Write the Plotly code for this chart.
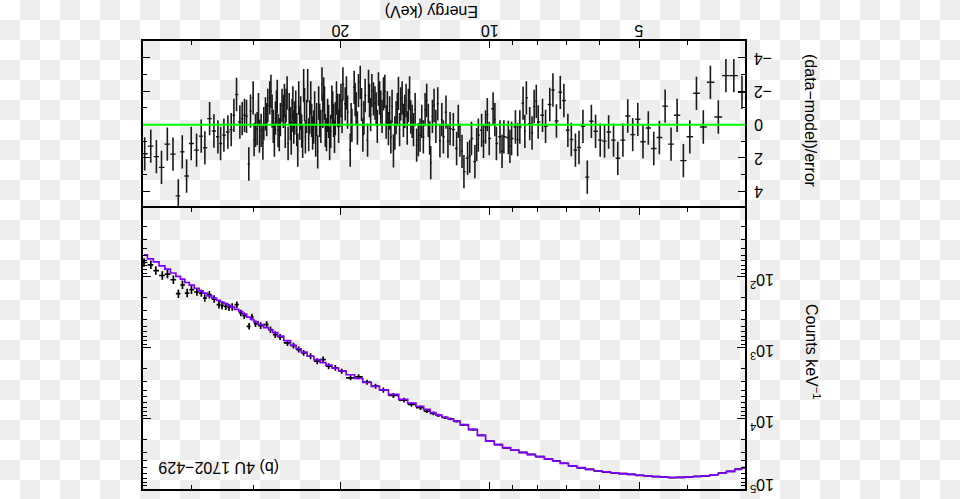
import numpy as np
import plotly.graph_objects as go

FONT = "Liberation Sans, Arial, Helvetica, sans-serif"

# ---------------- residual panel: energy (keV) and (data-model)/error ----------------
res_e_a = [49.7, 48.32, 47.07, 45.97, 44.74, 43.58, 42.52, 41.74, 40.91, 40.04]
res_v_a = [1.75, 1.29, 1.92, 2.56, 1.17, 1.77, 4.27, 1.63, 3.08, 1.13]

res_e_b = [39.06, 38.22, 37.58, 36.76, 36.03, 35.37, 34.93, 34.40, 33.77, 33.25,
           32.84, 32.44, 31.94, 31.60, 31.26, 30.97, 30.64, 30.40, 30.03]
res_v_b = [1.53, 0.69, 1.39, -0.36, 0.38, 0.73, 1.13, 0.63, 0.44, 0.30,
           -0.56, -1.81, -0.16, -0.36, -0.56, -0.50, 2.36, -0.81, -1.61]

res_e_c = [29.71, 29.48, 29.16, 28.94, 28.58, 28.36, 28.05, 27.80, 27.50, 27.21,
           26.95, 26.75, 26.46, 26.26, 25.97, 25.77, 25.53, 25.26, 25.06, 24.87,
           24.64, 24.41, 24.19, 23.97, 23.75, 23.56, 23.31, 23.09, 22.88, 22.67,
           22.46, 22.25, 22.05, 21.81, 21.64, 21.48, 21.25, 21.05, 20.83, 20.67,
           20.50, 20.28, 20.10]
res_v_c = [0.34, 0.24, 0.69, 0.34, -0.06, -0.65, -1.15, -1.61, -0.81, 0.93,
           -1.05, 0.34, -0.30, -1.15, -1.45, -1.15, 1.13, -0.06, -0.56, 0.14,
           -1.05, 1.53, -0.10, 0.38, -2.34, 0.73, -2.34, -0.46, -0.26, 0.14,
           0.93, 1.63, -0.26, -2.44, -1.85, 0.34, -0.56, 1.13, -1.35, -0.26,
           -0.36, -0.85, -0.85]

res_e_c2 = [29.9, 29.3, 28.7, 28.2, 27.65, 27.35, 27.08, 26.85, 26.6, 26.1,
            25.87, 25.65, 25.4, 25.16, 24.97, 24.75, 24.52, 24.3, 24.08, 23.86,
            23.65, 23.43, 23.2, 22.98, 22.78, 22.57, 22.36, 22.15, 21.93, 21.72,
            21.56, 21.36, 21.15, 20.94, 20.75, 20.58, 20.39, 20.19]
res_v_c2 = [0.9, -0.9, 1.1, -0.3, -2.0, 0.1, -0.4, -1.7, 0.6, -0.8,
            0.4, -1.9, -0.9, 0.8, -1.3, -0.4, 0.3, -1.6, -0.7, 1.0,
            -1.2, -0.5, 0.6, -1.6, 0.5, -1.0, -0.3, -1.3, 0.1, -0.8,
            -1.3, 0.6, -0.2, 0.4, -1.0, 0.7, -1.6, 0.1]

res_e_d = [19.97, 19.79, 19.58, 19.37, 19.13, 18.98, 18.78, 18.61, 18.41, 18.26,
           18.04, 17.85, 17.65, 17.49, 17.30, 17.17, 16.96, 16.78, 16.60, 16.39,
           16.19, 16.02, 15.84, 15.65, 15.46, 15.29, 15.13, 14.94, 14.76, 14.60,
           14.44, 14.26, 14.05, 13.83, 13.62, 13.41, 13.31, 13.16, 12.96, 12.74,
           12.61, 12.41, 12.26, 12.03]
res_v_d = [-1.45, -2.44, -1.25, -0.75, 1.53, 0.04, -2.24, -0.95, -2.04, -2.54,
           0.63, -1.75, 0.93, -1.45, -2.04, -1.55, -0.95, -2.14, -1.05, -1.85,
           -0.16, 0.24, 0.73, 1.57, -0.42, -1.88, -1.25, -0.26, -1.45, -1.15,
           -0.46, 0.30, 1.23, 0.63, 0.73, -1.45, -0.26, 2.28, -1.15, -1.25,
           0.97, 0.73, -0.75, 0.24]

res_e_d2 = [19.87, 19.47, 19.05, 18.70, 18.50, 18.15, 17.95, 17.57, 17.40, 17.05,
            16.87, 16.69, 16.50, 16.29, 16.10, 15.93, 15.75, 15.55, 15.37, 15.21,
            15.03, 14.85, 14.68, 14.52, 14.35, 14.15, 13.94, 13.72, 13.51, 13.23,
            13.06, 12.85, 12.50, 12.15]
res_v_d2 = [-0.5, -1.9, -0.3, -1.5, 0.2, -1.2, -0.4, -2.3, -0.6, -1.3,
            0.1, -1.6, -0.5, -2.0, -1.0, -0.7, -1.1, 0.5, -0.9, 0.3,
            -1.6, -0.8, 0.2, -1.9, -0.2, -0.9, 0.9, -0.2, -0.9, 0.8,
            -0.5, 0.1, -0.3, 1.0]

res_e_e = [11.85, 11.67, 11.49, 11.28, 11.09, 10.89, 10.72, 10.55, 10.39, 10.20,
           10.03, 9.85, 9.70, 9.54, 9.37, 9.18, 9.04, 8.88, 8.70, 8.57,
           8.44, 8.31, 8.14, 7.99,
           11.58, 11.38, 10.98, 10.63, 10.30, 10.12, 9.77, 9.45, 9.11, 8.79,
           8.50, 8.22, 8.06]
res_v_e = [0.30, 1.43, 0.93, 2.82, 2.02, 0.83, 2.22, 0.63, 0.34, 0.14,
           0.83, -0.95, 1.13, 0.73, 0.73, 0.77, 0.83, 0.14, 0.14, -1.29,
           -1.61, -0.06, -1.09, -0.16,
           -0.2, 1.6, 1.9, 1.2, 1.0, -0.6, -0.3, 1.6, 1.3, 0.9,
           0.4, 0.5, -1.4]

res_e_f = [7.83, 7.72, 7.57, 7.46, 7.34, 7.21, 7.09, 6.96, 6.85, 6.72,
           6.61, 6.49, 6.36, 6.24, 6.12, 5.99, 5.87, 5.76, 5.63, 5.52,
           5.39, 5.27, 5.15, 5.03, 4.91, 4.79, 4.67, 4.55, 4.43, 4.31,
           4.19, 4.07, 3.95, 3.83, 3.71, 3.59, 3.46, 3.34, 3.22, 3.10]
res_v_f = [-0.56, 0.10, -1.21, -2.08, -0.22, -1.94, -1.45, 0.34, 0.89, 1.53,
           1.37, 0.10, 3.15, -0.20, 0.40, 0.93, 0.99, 0.44, 0.93, 2.02,
           0.93, -0.52, 0.60, -0.32, 1.03, 0.20, 1.43, 0.77, -1.11, 1.17,
           -0.56, 2.16, 0.73, -1.88, 0.14, -2.54, -0.46, -2.94, -2.94, -1.94]

res_energy = res_e_a + res_e_b + res_e_c + res_e_c2 + res_e_d + res_e_d2 + res_e_e + res_e_f
res_value = res_v_a + res_v_b + res_v_c + res_v_c2 + res_v_d + res_v_d2 + res_v_e + res_v_f

# ---------------- counts panel: energy (keV), log10 model and data counts/keV ----------------
cnt_energy = [49.85, 48.3, 47.2, 45.8, 44.7, 43.5, 42.5, 41.7, 40.8, 40.0,
              39.0, 38.2, 37.6, 36.8, 36.0, 35.2, 34.7, 34.1, 33.6, 33.1,
              32.4, 31.8, 31.3, 30.6, 30.2, 29.7, 29.0, 28.2, 27.7, 27.1,
              26.5, 25.6, 24.9, 24.3, 23.75, 23.0, 22.3, 21.7, 21.15, 20.5,
              19.9, 19.1, 18.4, 17.7, 17.0, 16.4, 15.65, 14.9, 14.4, 13.8,
              13.4, 13.0, 12.7, 12.3, 12.0, 11.67, 11.3, 10.8, 10.4, 10.0,
              9.6, 9.26, 8.9, 8.57, 8.25, 7.93, 7.6, 7.34, 7.09, 6.8,
              6.55, 6.29, 6.05, 5.82, 5.6, 5.39, 5.18, 4.99, 4.8, 4.62,
              4.45, 4.28, 4.12, 3.96, 3.81, 3.67, 3.53, 3.40, 3.27, 3.14, 3.07]
cnt_model_log = [1.694, 1.751, 1.794, 1.851, 1.897, 1.951, 1.999, 2.037, 2.085, 2.122,
                 2.166, 2.204, 2.234, 2.274, 2.304, 2.338, 2.360, 2.384, 2.408, 2.432,
                 2.463, 2.494, 2.530, 2.572, 2.605, 2.637, 2.678, 2.721, 2.751, 2.792,
                 2.841, 2.905, 2.970, 3.019, 3.068, 3.125, 3.172, 3.216, 3.251, 3.292,
                 3.333, 3.386, 3.439, 3.495, 3.549, 3.599, 3.663, 3.733, 3.785, 3.833,
                 3.875, 3.921, 3.955, 3.985, 4.010, 4.039, 4.090, 4.156, 4.240, 4.321,
                 4.370, 4.414, 4.450, 4.484, 4.512, 4.540, 4.575, 4.602, 4.635, 4.672,
                 4.697, 4.719, 4.740, 4.757, 4.768, 4.779, 4.791, 4.803, 4.812, 4.821,
                 4.829, 4.835, 4.833, 4.827, 4.821, 4.813, 4.797, 4.775, 4.750, 4.719, 4.700]
cnt_data_log = [1.803, 1.835, 1.916, 1.986, 1.966, 2.046, 2.243, 2.117, 2.234, 2.187,
                2.219, 2.234, 2.304, 2.257, 2.318, 2.398, 2.412, 2.422, 2.436, 2.431,
                2.398, 2.515, 2.553, 2.703, 2.571, 2.665, 2.693, 2.679, 2.750, 2.820,
                2.852, 2.937, 2.975, 3.031, 3.077, 3.125, 3.195, 3.172, 3.266, 3.289,
                3.336, 3.429, 3.415, 3.491, 3.547, 3.603, 3.678, 3.744, 3.804, 3.851,
                3.899, 3.931, 3.959, 3.990, 4.008, 4.044, 4.092, 4.160, 4.241, 4.323,
                4.372, 4.416, 4.451, 4.482, 4.510, 4.540, 4.574, 4.601, 4.634, 4.673,
                4.698, 4.719, 4.741, 4.758, 4.770, 4.779, 4.790, 4.804, 4.813, 4.822,
                4.828, 4.836, 4.834, 4.828, 4.820, 4.812, 4.796, 4.774, 4.748, 4.716, 4.697]
cnt_err_dex = [0.060, 0.060, 0.060, 0.060, 0.060, 0.060, 0.060, 0.060, 0.060, 0.060,
               0.052, 0.052, 0.052, 0.052, 0.052, 0.052, 0.052, 0.052, 0.052, 0.052,
               0.046, 0.046, 0.046, 0.046, 0.046, 0.046, 0.046, 0.046, 0.046, 0.046,
               0.042, 0.042, 0.042, 0.042, 0.042, 0.042, 0.042, 0.042, 0.042, 0.042,
               0.036, 0.036, 0.036, 0.036, 0.036, 0.036, 0.036, 0.034, 0.034, 0.032,
               0.028, 0.026, 0.024, 0.020, 0.018, 0.016, 0.014, 0.012, 0.010, 0.010,
               0.006, 0.006, 0.006, 0.006, 0.006, 0.006, 0.006, 0.006, 0.006, 0.006,
               0.005, 0.005, 0.005, 0.005, 0.005, 0.005, 0.005, 0.005, 0.005, 0.005,
               0.005, 0.005, 0.005, 0.005, 0.005, 0.005, 0.005, 0.005, 0.005, 0.005, 0.005]

# axis ticks and their labels
x_tick_vals = [5, 10, 20]
x_tick_text = ["5", "10", "20"]
x_minor_vals = [4, 6, 7, 8, 9, 30, 40]
res_tick_vals = [-4, -2, 0, 2, 4]
res_tick_text = ["\u22124", "\u22122", "0", "2", "4"]
res_minor_vals = [-3, -1, 1, 3]
cnt_tick_vals = [1e2, 1e3, 1e4, 1e5]
cnt_tick_text = ["10<sup>2</sup>", "10<sup>3</sup>", "10<sup>4</sup>", "10<sup>5</sup>"]
cnt_minor_vals = [m * 10 ** d for d in range(1, 5) for m in range(2, 10)]

assert len(res_energy) == len(res_value)
assert len(cnt_energy) == len(cnt_model_log) == len(cnt_data_log) == len(cnt_err_dex)


def geo_edges(e):
    mid = np.sqrt(e[:-1] * e[1:])
    lo = np.concatenate([[e[0] ** 2 / mid[0]], mid])
    hi = np.concatenate([mid, [e[-1] ** 2 / mid[-1]]])
    return lo, hi


o = np.argsort(res_energy)
re = np.array(res_energy)[o]
rv = np.array(res_value)[o]
rlo, rhi = geo_edges(re)

o2 = np.argsort(cnt_energy)
ce = np.array(cnt_energy)[o2]
cm = 10 ** np.array(cnt_model_log)[o2]
cd = 10 ** np.array(cnt_data_log)[o2]
cerr = np.array(cnt_err_dex)[o2]
clo, chi = geo_edges(ce)

W, H = 960, 499
LW = 1.6
X_DOM = [(142 + LW / 2) / W, (746 - LW / 2) / W]
Y_RES = [1 - 208 / H, 1 - (40.5 + LW / 2) / H]
Y_CNT = [1 - (490 - LW / 2) / H, 1 - 208 / H]

# background checkerboard (transparency pattern of the reference image)
nx, ny = 48, 25
checker = [[(i + j) % 2 for i in range(nx)] for j in range(ny)]

fig = go.Figure()
fig.add_trace(go.Heatmap(z=checker, x0=0.5, dx=1, y0=0.5, dy=1,
                         colorscale=[[0, "#ffffff"], [1, "#eeeeee"]], zmin=0, zmax=1,
                         showscale=False, hoverinfo="skip", zsmooth=False,
                         xaxis="x", yaxis="y"))

fig.add_trace(go.Scatter(
    x=re, y=rv, mode="markers", marker=dict(size=1, color="#111111"),
    error_y=dict(type="constant", value=1, thickness=1.6, width=0, color="#1a1a1a"),
    error_x=dict(type="data", symmetric=False, array=rhi - re, arrayminus=re - rlo,
                 thickness=1.4, width=0, color="#1a1a1a"),
    xaxis="x2", yaxis="y2", hoverinfo="skip"))

fig.add_trace(go.Scatter(
    x=ce, y=cd, mode="markers", marker=dict(size=1, color="black"),
    error_y=dict(type="data", symmetric=False, array=cd * (10 ** cerr - 1),
                 arrayminus=cd * (1 - 10 ** (-cerr)), thickness=1.7, width=0, color="black"),
    error_x=dict(type="data", symmetric=False, array=chi - ce, arrayminus=ce - clo,
                 thickness=1.7, width=0, color="black"),
    xaxis="x3", yaxis="y3", hoverinfo="skip"))

fig.add_trace(go.Scatter(
    x=ce, y=cm, mode="lines", line=dict(shape="hvh", color="#8000ff", width=1.7),
    xaxis="x3", yaxis="y3", hoverinfo="skip"))

common = dict(showline=True, linecolor="black", linewidth=LW,
              ticks="inside", tickcolor="black", tickwidth=1.2, showgrid=False,
              zeroline=False, fixedrange=True, showticklabels=False)
minor_common = dict(ticks="inside", ticklen=4, tickcolor="black", tickwidth=1.2, showgrid=False)

xr = [np.log10(50.14), np.log10(3.054)]

tfont = dict(family=FONT, size=16, color="black")
annotations = [
    dict(text="Energy (keV)", x=432 / W, y=1 - 12 / H, xref="paper", yref="paper",
         xanchor="center", yanchor="middle", showarrow=False, textangle=180, font=tfont),
    dict(text="(data\u2212model)/error", x=811 / W, y=1 - 121 / H, xref="paper",
         yref="paper", xanchor="center", yanchor="middle", showarrow=False, textangle=90,
         font=tfont),
    dict(text="Counts keV<sup>\u22121</sup>", x=813 / W, y=1 - 351 / H, xref="paper",
         yref="paper", xanchor="center", yanchor="middle", showarrow=False, textangle=90,
         font=tfont),
    dict(text="(b) 4U 1702\u2212429", x=219 / W, y=1 - 468 / H, xref="paper",
         yref="paper", xanchor="center", yanchor="middle", showarrow=False, textangle=180,
         font=tfont),
]
# tick labels, rotated like the rest of the figure
for v, t in zip(x_tick_vals, x_tick_text):
    annotations.append(dict(text=t, x=np.log10(v), xref="x2", y=1 - 30 / H, yref="paper",
                            xanchor="center", yanchor="middle", showarrow=False,
                            textangle=180, font=tfont))
for v, t in zip(res_tick_vals, res_tick_text):
    annotations.append(dict(text=t, x=752 / W, xref="paper", y=v, yref="y2",
                            xanchor="left", yanchor="middle", showarrow=False,
                            textangle=180, font=tfont))
for v, t in zip(cnt_tick_vals, cnt_tick_text):
    annotations.append(dict(text=t, x=748 / W, xref="paper", y=np.log10(v), yref="y3",
                            xanchor="left", yanchor="middle",
                            yshift=(-4 if v < 1e5 else 4), showarrow=False,
                            textangle=180, font=tfont))

fig.update_layout(
    width=W, height=H, margin=dict(l=0, r=0, t=0, b=0),
    paper_bgcolor="white", plot_bgcolor="rgba(0,0,0,0)", showlegend=False,
    xaxis=dict(domain=[0, 1], range=[0, nx], visible=False, fixedrange=True),
    yaxis=dict(domain=[0, 1], range=[H / 20, 0], visible=False, fixedrange=True),
    xaxis2=dict(common, type="log", domain=X_DOM, range=xr, anchor="y2", side="top",
                mirror=False, tickmode="array", tickvals=x_tick_vals, ticklen=7,
                minor=dict(minor_common, tickvals=x_minor_vals)),
    yaxis2=dict(common, domain=Y_RES, range=[5, -5], anchor="x2", side="right",
                mirror="allticks", tickmode="array", tickvals=res_tick_vals, ticklen=7,
                minor=dict(minor_common, tickvals=res_minor_vals)),
    xaxis3=dict(common, type="log", domain=X_DOM, range=xr, anchor="y3",
                mirror="allticks", tickmode="array", tickvals=x_tick_vals, ticklen=7,
                minor=dict(minor_common, tickvals=x_minor_vals)),
    yaxis3=dict(common, type="log", domain=Y_CNT, range=[5.0, 1.034], anchor="x3",
                side="right", mirror="allticks", tickmode="array", tickvals=cnt_tick_vals,
                ticklen=8, minor=dict(minor_common, tickvals=cnt_minor_vals)),
    shapes=[dict(type="line", xref="x2 domain", yref="y2", x0=0, x1=1, y0=0, y1=0,
                 line=dict(color="#00ff00", width=2), layer="above")],
    annotations=annotations,
)

fig.write_html("out.html")
